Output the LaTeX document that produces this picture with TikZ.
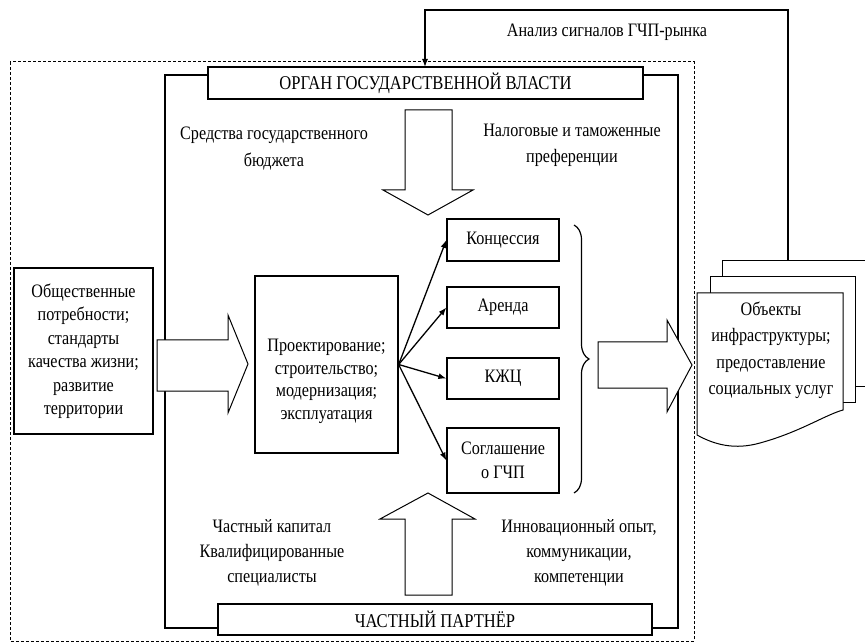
\documentclass[tikz,border=0pt]{standalone}
\usepackage{fontspec}
\setmainfont{Liberation Serif}[FakeStretch=0.85]
\usetikzlibrary{arrows.meta,decorations.pathreplacing}
\begin{document}
\begin{tikzpicture}[x=1pt,y=-1pt,
  txt/.style={align=center,font=\fontsize{19}{24}\selectfont,inner sep=0pt},
  box/.style={draw,line width=1.3pt,fill=white,align=center,font=\fontsize{19}{23.5}\selectfont,inner sep=0pt},
  headbox/.style={box,line width=2pt,font=\fontsize{19.5}{23}\selectfont},
  bigarrow/.style={draw,line width=1pt,fill=white,line join=miter},
  conn/.style={line width=1.3pt,-{Latex[length=8pt,width=6pt]}},
  card/.style={draw,line width=1pt,fill=white}]
\useasboundingbox (0,0) rectangle (865,644);

% outer dashed region
\draw[line width=1pt,dash pattern=on 3pt off 2pt] (10,62) rectangle (694,641);
% inner frame
\draw[line width=1.3pt] (165,75) rectangle (678,628);

% head boxes
\node[headbox,minimum width=435pt,minimum height=32pt] (gov) at (425.5,83) {ОРГАН ГОСУДАРСТВЕННОЙ ВЛАСТИ};
\node[headbox,minimum width=434pt,minimum height=31pt] (part) at (435,619.5) {ЧАСТНЫЙ ПАРТНЁР};

% texts
\node[txt,font=\fontsize{19}{27}\selectfont] (budget) at (274,149) {Средства государственного\\бюджета};
\node[txt,font=\fontsize{19}{26}\selectfont] (tax) at (572,145) {Налоговые и таможенные\\преференции};
\node[txt,font=\fontsize{19}{25}\selectfont] (capital) at (272,553) {Частный капитал\\Квалифицированные\\специалисты};
\node[txt,font=\fontsize{19}{25}\selectfont] (innov) at (579,553) {Инновационный опыт,\\коммуникации,\\компетенции};

% big arrows
\draw[bigarrow] (405,110) -- (452,110) -- (452,190) -- (473,190) -- (428,215) -- (383,190) -- (405,190) -- cycle;
\draw[bigarrow] (405,595) -- (452,595) -- (452,519) -- (475,519) -- (428,493) -- (380,519) -- (405,519) -- cycle;
\draw[bigarrow] (157,340) -- (228,340) -- (228,315) -- (248,364) -- (228,413) -- (228,391) -- (157,391) -- cycle;
\draw[bigarrow] (598,342) -- (667,342) -- (667,320) -- (692,365) -- (667,412) -- (667,388) -- (598,388) -- cycle;

% boxes
\node[box,minimum width=139pt,minimum height=166pt] (needs) at (83.5,351) {Общественные\\потребности;\\стандарты\\качества жизни;\\развитие\\территории};
\node[box,minimum width=143pt,minimum height=177pt,text depth=0pt] (proj) at (326.5,364.5) {\raisebox{4pt}{\parbox{140pt}{\centering\baselineskip=22.5pt Проектирование;\\строительство;\\модернизация;\\эксплуатация}}};
\node[box,minimum width=112pt,minimum height=42pt] (konc) at (503,240) {Концессия};
\node[box,minimum width=112pt,minimum height=41pt] (arenda) at (503,307.5) {Аренда};
\node[box,minimum width=112pt,minimum height=41pt] (kzhc) at (503,378.5) {КЖЦ};
\node[box,minimum width=112pt,minimum height=65pt] (sogl) at (503,460.5) {Соглашение\\о ГЧП};

% connectors
\draw[conn] (proj.east) -- (konc.west);
\draw[conn] (proj.east) -- (arenda.west);
\draw[conn] (proj.east) -- (kzhc.west);
\draw[conn] (proj.east) -- (sogl.west);

% brace
\coordinate (brTop) at (574,225);
\coordinate (brBot) at (574,493);
\draw[line width=1.2pt,decorate,decoration={brace,amplitude=15pt}] (brTop) -- (brBot);

% document stack
\draw[card] (722,261) rectangle (880,386);
\draw[card] (710,277) rectangle (855,402);
\draw[card] (697,293) -- (843,293) -- (843,410)
  .. controls (825,415) and (800,432) .. (760,443)
  .. controls (735,450) and (715,445) .. (697,435) -- cycle;
\node[txt,font=\fontsize{19}{26.5}\selectfont] (doc) at (771,350) {Объекты\\инфраструктуры;\\предоставление\\социальных услуг};

% feedback loop
\coordinate (fbStart) at (788,261);
\coordinate (govIn) at (425,67);
\draw[line width=1.2pt,-{Latex[length=8pt,width=6pt]}] (fbStart) |- (425,10) -- (govIn);
\node[txt] (fbLabel) at (607,32) {Анализ сигналов ГЧП-рынка};
\end{tikzpicture}
\end{document}
